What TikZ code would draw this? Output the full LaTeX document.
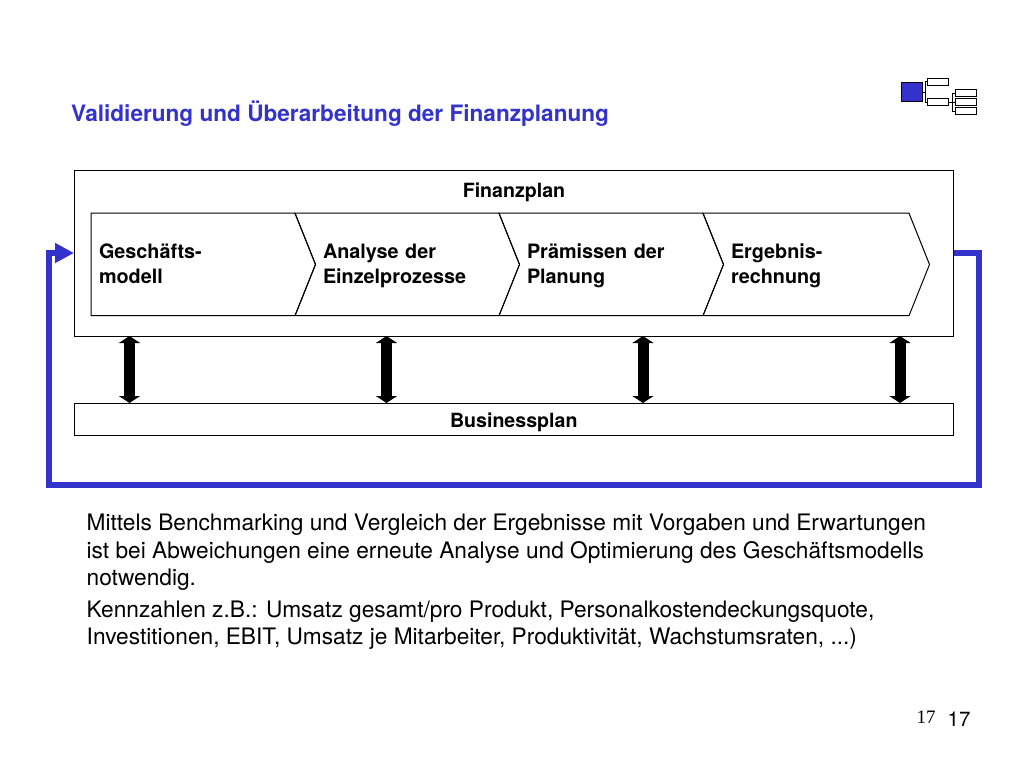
\documentclass[tikz,border=0pt]{standalone}
\usepackage{fontspec}
\usepackage{xcolor}
\setmainfont{TeX Gyre Heros}
\newfontfamily\pagefont{Liberation Serif}
\usetikzlibrary{arrows.meta,calc,positioning}
\definecolor{folieblue}{RGB}{51,51,204}

\begin{document}
\begin{tikzpicture}[
  x=1pt, y=-1pt,
  planbox/.style={draw, line width=1pt, minimum width=879.5pt, inner sep=0pt, outer sep=0pt, anchor=north west},
  chevron/.style={minimum width=204pt, minimum height=102.5pt, inner xsep=28pt, inner ysep=0pt, outer sep=0pt, align=left, text width=148pt, font=\fontsize{19.8}{24.5}\selectfont\bfseries, execute at begin node=\rule{0pt}{20pt}, execute at end node=\strut},
  chevline/.style={draw, line width=1pt, line join=miter},
  minibox/.style={draw, line width=0.9pt, fill=white, minimum width=21.5pt, minimum height=7pt, inner sep=0pt},
  feedback/.style={draw=folieblue, line width=6pt, -{Triangle[length=19pt,width=19pt]}},
  biarrow/.style={line width=11pt, {Triangle[length=7pt,width=21pt]}-{Triangle[length=7pt,width=21pt]}}
]
\useasboundingbox (0,0) rectangle (1024,768);
\node[anchor=west, inner xsep=0pt, text=folieblue, font=\fontsize{22.6}{27}\selectfont\bfseries] (title) at (71,114) {Validierung und Überarbeitung der Finanzplanung};
% outline icon
\node[draw=black, line width=0.9pt, fill=folieblue, minimum width=21pt, minimum height=18.5pt, inner sep=0pt] (iconroot) at (912,92) {};
\node[minibox] (iconup) at (938,81.5) {};
\node[minibox] (iconmid) at (938,102) {};
\node[minibox] (iconleafa) at (966,93) {};
\node[minibox] (iconleafb) at (966,102) {};
\node[minibox] (iconleafc) at (966,111) {};
\draw[line width=0.9pt] (iconroot.east) -- +(2.5,0) |- (iconup.west);
\draw[line width=0.9pt] (iconroot.east) -- +(2.5,0) |- (iconmid.west);
\draw[line width=0.9pt] (iconmid.east) -- +(3,0) |- (iconleafa.west);
\draw[line width=0.9pt] (iconmid.east) -- (iconleafb.west);
\draw[line width=0.9pt] (iconmid.east) -- +(3,0) |- (iconleafc.west);
% boxes
\node[planbox, minimum height=166pt] (fin) at (74,170) {};
\node[font=\fontsize{19.6}{24}\selectfont\bfseries] (fintitle) at (514,192.3) {Finanzplan};
\node[planbox, minimum height=32.5pt, below=67pt of fin.south west, anchor=north west, text height=17pt, text depth=1pt, font=\fontsize{19.6}{24}\selectfont\bfseries] (bus) {Businessplan};
% chevrons
\node[chevron, anchor=north west, inner xsep=8pt, text width=188pt] (gesch) at (91,213.2) {Geschäfts-\\modell};
\node[chevron, right=0pt of gesch] (analyse) {Analyse der\\Einzelprozesse};
\node[chevron, right=0pt of analyse] (praem) {Prämissen der\\Planung};
\node[chevron, minimum width=206pt, text width=150pt, right=0pt of praem] (erg) {Ergebnis-\\rechnung};
\draw[chevline] (gesch.north west) -- (gesch.north east) -- ($(gesch.east)+(20.5,0)$) -- (gesch.south east) -- (gesch.south west) -- cycle;
\foreach \name in {analyse,praem,erg}
  \draw[chevline] (\name.north west) -- (\name.north east) -- ($(\name.east)+(20.5,0)$) -- (\name.south east) -- (\name.south west) -- ($(\name.west)+(20.5,0)$) -- cycle;
% arrows between the plans
\foreach \i/\x in {1/129.5,2/386.5,3/643,4/900} {
  \coordinate (up\i) at (\x,336);
  \coordinate (low\i) at (\x,403);
  \draw[biarrow] (up\i |- fin.south) -- (low\i |- bus.north);
}
% feedback
\coordinate (loopout) at (953.5,253);
\coordinate (loopin) at (74,253);
\draw[feedback] (loopout) -- (979,253) -- (979,485) -- (48.5,485) -- (48.5,253) -- (loopin);
% text
\node[anchor=north west, inner sep=0pt, align=left, font=\fontsize{22.7}{27.5}\selectfont] (body) at (86.5,514) {Mittels Benchmarking und Vergleich der Ergebnisse mit Vorgaben und Erwartungen\\ist bei Abweichungen eine erneute Analyse und Optimierung des Geschäftsmodells\\notwendig.\\[4pt]Kennzahlen z.B.: Umsatz gesamt/pro Produkt, Personalkostendeckungsquote,\\Investitionen, EBIT, Umsatz je Mitarbeiter, Produktivität, Wachstumsraten, ...)};
\node[font=\fontsize{19}{22}\selectfont\pagefont] (pageserif) at (926,717) {17};
\node[font=\fontsize{20.5}{24}\selectfont] (pagesans) at (959,719) {17};
\end{tikzpicture}
\end{document}
